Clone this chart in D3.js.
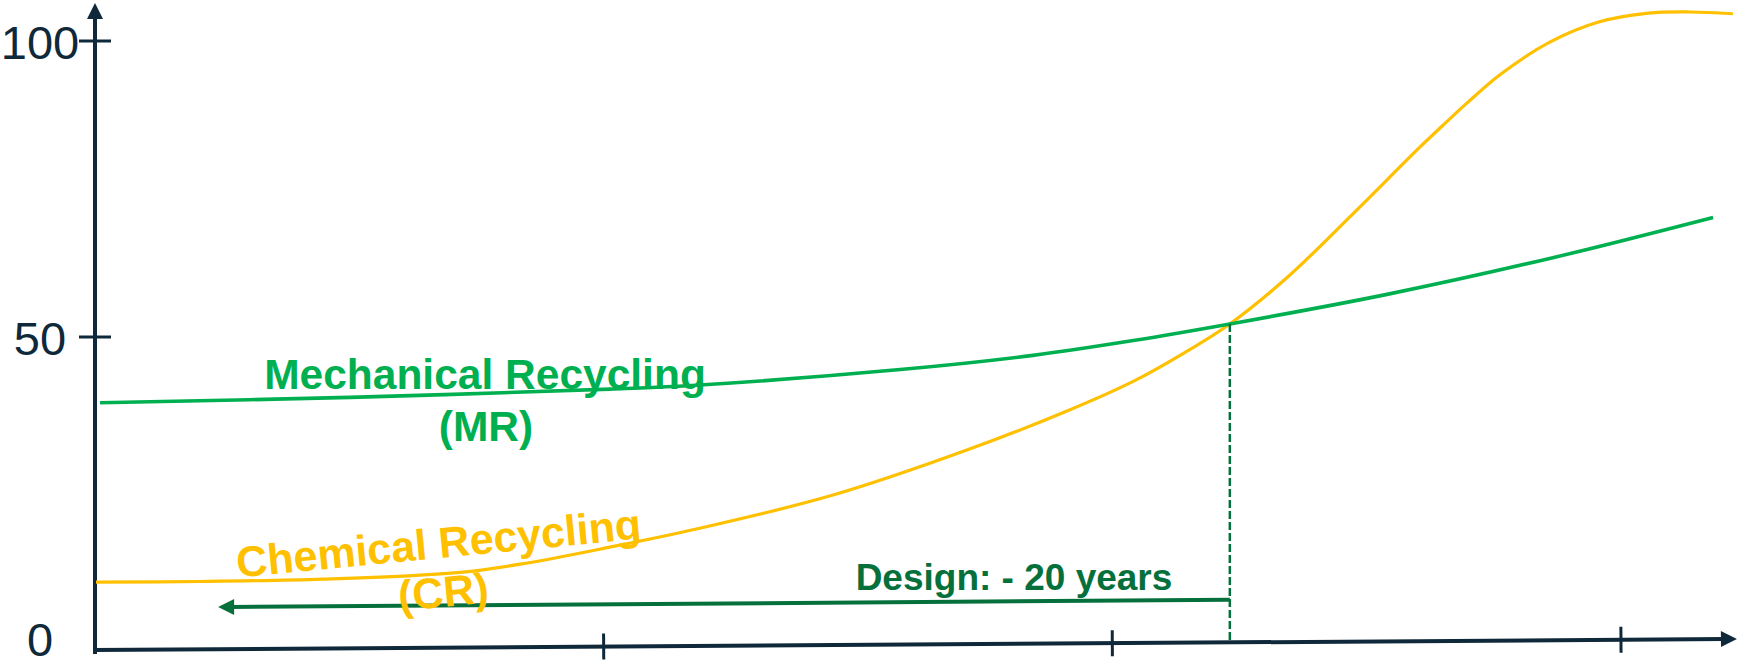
<!DOCTYPE html>
<html>
<head>
<meta charset="utf-8">
<script src="https://cdn.jsdelivr.net/npm/d3@7"></script>
<style>
  html, body { margin: 0; padding: 0; background: #ffffff; }
  svg { display: block; }
  text { font-family: "Liberation Sans", Arial, Helvetica, sans-serif; }
</style>
</head>
<body>
<svg id="chart" width="1742" height="663"></svg>
<script>
// ---- data ----------------------------------------------------------------
const xTicks = [1, 2, 3];
const yTicks = [0, 50, 100];

// Mechanical Recycling (MR)
const mrX = [0.010, 0.501, 1.012, 1.189, 1.583, 1.844, 2.041, 2.231, 2.540, 2.866, 3.181];
const mrY = [38.9, 39.8, 41.2, 41.9, 44.5, 46.9, 49.4, 52.2, 57.2, 63.4, 70.2];

// Chemical Recycling (CR)
const crX = [0.002, 0.206, 0.448, 0.712, 0.841, 1.012, 1.189, 1.451, 1.714, 1.911, 2.041, 2.139,
             2.231, 2.343, 2.473, 2.605, 2.648, 2.697, 2.762, 2.860, 2.956, 3.054, 3.136, 3.220];
const crY = [8.6, 8.7, 9.1, 10.2, 11.7, 14.5, 17.7, 23.3, 30.9, 37.5, 42.5, 47.2,
             52.2, 60.0, 70.8, 82.1, 85.6, 89.5, 94.3, 99.8, 103.2, 104.7, 104.9, 104.6];

// Crossover point and the "Design: - 20 years" arrow
const crossX = 2.231;
const crossY = 52.2;
const designX = [2.231, 0.242];
const designY = [5.6, 4.4];
const designLabel = "Design: - 20 years";

// ---- layout ----------------------------------------------------------------
const svg = d3.select("#chart");
const AXIS = "#10293a", MR = "#00b050", CR = "#ffc000", DARK = "#06703c";

const x = d3.scaleLinear().domain([0, 3]).range([95, 1621]);
const y = d3.scaleLinear().domain([0, 100]).range([633, 41]);

const xEnd = 3.228;           // arrow tip of the horizontal axis
const baseY = 650;            // horizontal axis height at the origin
const tilt = Math.atan2(-11, x(xEnd) - x(0)) * 180 / Math.PI;

// ---- axes ----------------------------------------------------------------
const axisG = svg.append("g").attr("transform", `rotate(${tilt}, ${x(0)}, ${baseY})`);
axisG.append("line")
  .attr("x1", x(0) - 2).attr("x2", x(xEnd) - 12)
  .attr("y1", baseY).attr("y2", baseY)
  .attr("stroke", AXIS).attr("stroke-width", 4);
axisG.append("path")
  .attr("d", `M${x(xEnd)},${baseY} L${x(xEnd) - 16},${baseY - 8} L${x(xEnd) - 16},${baseY + 8} Z`)
  .attr("fill", AXIS);
axisG.selectAll("line.xtick").data(xTicks).join("line")
  .attr("class", "xtick")
  .attr("x1", d => x(d)).attr("x2", d => x(d))
  .attr("y1", baseY - 13).attr("y2", baseY + 13)
  .attr("stroke", AXIS).attr("stroke-width", 3);

// vertical axis with arrow
svg.append("line")
  .attr("x1", x(0)).attr("x2", x(0))
  .attr("y1", baseY + 4).attr("y2", 16)
  .attr("stroke", AXIS).attr("stroke-width", 4);
svg.append("path")
  .attr("d", `M${x(0)},3 L${x(0) - 8},19 L${x(0) + 8},19 Z`)
  .attr("fill", AXIS);
svg.selectAll("line.ytick").data(yTicks.filter(d => d > 0)).join("line")
  .attr("class", "ytick")
  .attr("x1", x(0) - 16).attr("x2", x(0) + 16)
  .attr("y1", d => y(d)).attr("y2", d => y(d))
  .attr("stroke", AXIS).attr("stroke-width", 3);

// centred text helper, optionally rotated
function label(parent, str, cx, cy, opts) {
  parent.append("text")
    .attr("transform", `translate(${cx},${cy}) rotate(${opts.rotate || 0})`)
    .attr("text-anchor", "middle")
    .attr("font-size", opts.size)
    .attr("font-weight", opts.weight || "normal")
    .attr("fill", opts.color)
    .text(str);
}

const tickFont = 47;
yTicks.forEach(v => {
  const cy = v === 0 ? 639 : y(v) + 1.5;
  label(svg, String(v), 40, cy + 0.358 * tickFont, { size: tickFont, color: AXIS });
});

// ---- series ----------------------------------------------------------------
const line = d3.line()
  .x(d => x(d[0])).y(d => y(d[1]))
  .curve(d3.curveCatmullRom.alpha(0.5));

svg.append("path")
  .datum(d3.zip(crX, crY))
  .attr("d", line)
  .attr("fill", "none").attr("stroke", CR).attr("stroke-width", 3.2);

svg.append("path")
  .datum(d3.zip(mrX, mrY))
  .attr("d", line)
  .attr("fill", "none").attr("stroke", MR).attr("stroke-width", 3.6);

// crossover drop line
svg.append("line")
  .attr("x1", x(crossX)).attr("x2", x(crossX))
  .attr("y1", y(crossY)).attr("y2", baseY - 8)
  .attr("stroke", DARK).attr("stroke-width", 2.5)
  .attr("stroke-dasharray", "8,3");

// design arrow, pointing back toward the origin
const dx0 = x(designX[0]), dy0 = y(designY[0]);
const dx1 = x(designX[1]), dy1 = y(designY[1]);
svg.append("line")
  .attr("x1", dx0).attr("y1", dy0)
  .attr("x2", dx1 + 12).attr("y2", dy1)
  .attr("stroke", DARK).attr("stroke-width", 4);
svg.append("path")
  .attr("d", `M${dx1},${dy1} L${dx1 + 16},${dy1 - 8} L${dx1 + 16},${dy1 + 8} Z`)
  .attr("fill", DARK);

// ---- annotations -----------------------------------------------------------
label(svg, "Mechanical Recycling", 485, 389, { size: 42.5, weight: "bold", color: MR });
label(svg, "(MR)", 486, 441, { size: 42.5, weight: "bold", color: MR });

const crG = svg.append("g").attr("transform", "translate(440,558) rotate(-5.5)");
label(crG, "Chemical Recycling", 0, 0, { size: 43, weight: "bold", color: CR });
label(crG, "(CR)", 0, 49, { size: 43, weight: "bold", color: CR });

label(svg, designLabel, 1014, 590, { size: 37, weight: "bold", color: DARK });
</script>
</body>
</html>
